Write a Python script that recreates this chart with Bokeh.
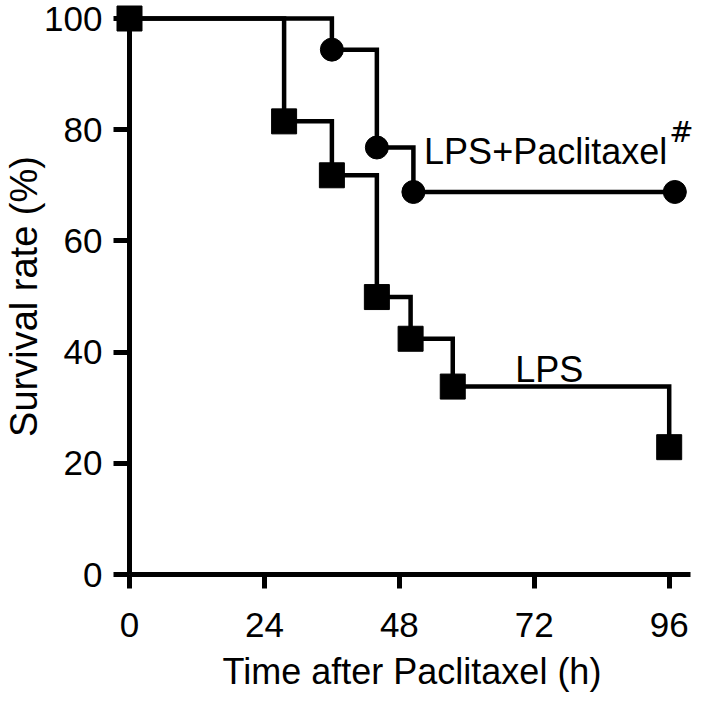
from bokeh.plotting import figure
from bokeh.models import Range1d, FixedTicker, Label
from bokeh.embed import file_html
from bokeh.resources import INLINE

# --- data ---
lps_time = [0, 27.5, 36, 44, 50, 57.5, 96]
lps_survival = [100, 81.5, 71.8, 49.9, 42.4, 33.8, 22.9]

pac_time = [0, 36, 44, 50.5, 97]
pac_survival = [100, 94.4, 76.8, 68.8, 68.8]

x_ticks = [0, 24, 48, 72, 96]
y_ticks = [0, 20, 40, 60, 80, 100]

FONT = "Liberation Sans"

p = figure(
    width=694, height=694,
    x_range=Range1d(0, 100.5), y_range=Range1d(0, 100),
    output_backend="svg", toolbar_location=None,
    min_border_left=0, min_border_right=0, min_border_top=18, min_border_bottom=0,
    background_fill_color="white", border_fill_color="white",
)
p.outline_line_color = None
p.grid.visible = False

p.xaxis.ticker = FixedTicker(ticks=x_ticks)
p.xaxis.bounds = (0, 99.77)
p.yaxis.ticker = FixedTicker(ticks=y_ticks)
for ax in p.axis:
    ax.axis_line_width = 5
    ax.axis_line_color = "black"
    ax.major_tick_line_width = 5
    ax.major_tick_line_color = "black"
    ax.major_tick_in = 0
    ax.minor_tick_line_color = None
    ax.major_label_text_font = FONT
    ax.major_label_text_font_size = "35px"
    ax.major_label_text_color = "black"
    ax.axis_label_text_font = FONT
    ax.axis_label_text_font_style = "normal"
    ax.axis_label_text_color = "black"

p.xaxis.major_tick_out = 14
p.xaxis.major_label_standoff = 24
p.xaxis.axis_label = "Time after Paclitaxel (h)"
p.xaxis.axis_label_text_font_size = "36px"
p.xaxis.axis_label_standoff = 11

p.yaxis.major_tick_out = 16
p.yaxis.major_label_standoff = 11
p.yaxis.axis_label = "Survival rate (%)"
p.yaxis.axis_label_text_font_size = "38px"
p.yaxis.axis_label_standoff = -4

# step curves
for t, s in [(lps_time, lps_survival), (pac_time, pac_survival)]:
    r = p.step(t, s, mode="after", line_color="black", line_width=4.5, line_join="miter")
    r.level = "overlay"

rs = p.scatter(lps_time, lps_survival, marker="square", size=25, color="black")
rs.level = "overlay"
rc = p.scatter(pac_time, pac_survival, marker="circle", size=23, color="black")
rc.level = "overlay"

p.add_layout(Label(x=52.4, y=76.0, text="LPS+Paclitaxel", text_font=FONT,
                   text_font_size="36px", text_color="black", text_baseline="alphabetic"))
p.add_layout(Label(x=96.0, y=79.5, text="#", text_font="DejaVu Sans",
                   text_font_size="29px", text_color="black", text_baseline="alphabetic"))
p.add_layout(Label(x=68.6, y=36.8, text="LPS", text_font=FONT,
                   text_font_size="36px", text_color="black", text_baseline="alphabetic"))

open("out.html", "w").write(file_html(p, INLINE))
